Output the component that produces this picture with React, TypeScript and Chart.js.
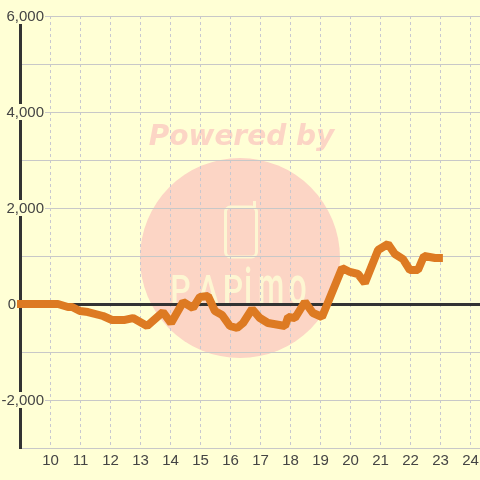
import React, { useEffect, useRef } from "react";
import { Chart, registerables } from "chart.js";

Chart.register(...registerables);

const xValues = [8.88, 10.25, 10.58, 10.72, 10.98, 11.25, 11.75, 12.05, 12.48, 12.75, 13.22, 13.75, 14.02, 14.42, 14.75, 14.98, 15.25, 15.48, 15.72, 15.98, 16.22, 16.42, 16.72, 16.98, 17.25, 17.82, 17.92, 18.15, 18.48, 18.75, 19.05, 19.72, 19.98, 20.25, 20.48, 20.92, 21.25, 21.48, 21.75, 21.98, 22.25, 22.45, 22.82, 23.08];
const yValues = [0, 0, -62, -62, -146, -167, -250, -333, -333, -292, -458, -167, -396, 42, -83, 146, 167, -146, -229, -458, -500, -396, -104, -292, -396, -458, -271, -292, 42, -188, -271, 750, 667, 625, 437, 1125, 1250, 1042, 937, 708, 708, 1000, 958, 958];
const yLabelValues = [6000, 4000, 2000, 0, -2000];
const logoLetters = ["P", "A", "P", "i", "m", "o"];
const logoCentres = [180.5, 208, 233, 248, 271, 297.5];

const FONT = "15px 'Liberation Sans'";
const TEXT = "#444444";
const BG = "#ffffd5";
const PINK = "#fcd5c5";
const PALE = "#fdf6d2";

const watermark = {
  id: "watermark",
  beforeDraw(chart: any) {
    const c = chart.ctx;
    c.save();
    c.fillStyle = BG;
    c.fillRect(0, 0, chart.width, chart.height);
    c.fillStyle = PINK;
    c.beginPath();
    c.arc(240, 258, 100, 0, Math.PI * 2);
    c.fill();
    c.font = "italic bold 28px 'DejaVu Sans'";
    c.textAlign = "center";
    c.textBaseline = "alphabetic";
    c.fillText("Powered by", 241.5, 145);
    c.strokeStyle = PALE;
    c.lineWidth = 3;
    c.lineJoin = "round";
    c.beginPath();
    c.roundRect(225.5, 207, 31, 50, 5);
    c.stroke();
    c.beginPath();
    c.moveTo(254.5, 207);
    c.lineTo(254.5, 201);
    c.stroke();
    c.fillStyle = PALE;
    c.font = "500 40px Roboto";
    logoLetters.forEach((ch, i) => {
      c.save();
      c.translate(logoCentres[i], 304);
      c.scale(ch === "m" ? 0.75 : 0.8, ch === "P" || ch === "A" ? 1 : 1.3);
      c.fillText(ch, 0, 0);
      c.restore();
    });
    c.restore();
  },
};

const yLabels = {
  id: "yLabels",
  afterDatasetsDraw(chart: any) {
    const c = chart.ctx;
    const scale = chart.scales.y;
    c.save();
    c.font = FONT;
    c.textBaseline = "middle";
    c.textAlign = "right";
    for (const v of yLabelValues) {
      const text = v.toLocaleString("en-US");
      const right = v === 0 ? 16 : 44;
      const w = c.measureText(text).width;
      const y = scale.getPixelForValue(v);
      c.fillStyle = BG;
      c.fillRect(right - w - 1, y - 8, w + 2, 16);
      c.fillStyle = TEXT;
      c.fillText(text, right, y + 1);
    }
    c.restore();
  },
};

export default function App() {
  const ref = useRef<HTMLCanvasElement>(null);
  useEffect(() => {
    document.body.style.margin = "0";
    const chart = new Chart(ref.current!, {
      type: "line",
      data: {
        datasets: [
          {
            data: xValues.map((x, i) => ({ x, y: yValues[i] })),
            borderColor: "#dd7a22",
            borderWidth: 8,
            borderJoinStyle: "bevel",
            pointRadius: 0,
            tension: 0,
            clip: false,
          } as any,
        ],
      },
      plugins: [watermark, yLabels],
      options: {
        animation: false,
        responsive: false,
        devicePixelRatio: 1,
        layout: { padding: { left: 20.5, top: 16, right: 0, bottom: 0 } },
        plugins: { legend: { display: false }, tooltip: { enabled: false } },
        scales: {
          x: {
            type: "linear",
            min: 9,
            max: 24.317,
            afterFit(s: any) {
              s.height = 32;
              s.paddingLeft = 0;
              s.paddingRight = 0;
            },
            ticks: {
              stepSize: 1,
              includeBounds: false,
              maxRotation: 0,
              autoSkip: false,
              padding: 4,
              color: TEXT,
              font: { family: "'Liberation Sans'", size: 15 },
              callback: (v: any) => (v < 10 ? "" : String(v)),
            },
            grid: { color: "#c8c8d0", lineWidth: 1, tickLength: 0, drawTicks: false },
            border: { display: false, dash: [3, 3] },
          },
          y: {
            type: "linear",
            min: -3000,
            max: 6000,
            afterFit(s: any) {
              s.width = 0;
            },
            ticks: { stepSize: 1000, display: false },
            grid: {
              color: (ctx: any) => (ctx.tick && ctx.tick.value === 0 ? "#333333" : "#c8c8c8"),
              lineWidth: (ctx: any) => (ctx.tick && ctx.tick.value === 0 ? 3 : 1),
              drawTicks: false,
            },
            border: { display: true, color: "#333333", width: 3 },
          },
        },
      } as any,
    });
    return () => chart.destroy();
  }, []);
  return <canvas ref={ref} width={480} height={480} style={{ display: "block", width: 480, height: 480 }} />;
}
